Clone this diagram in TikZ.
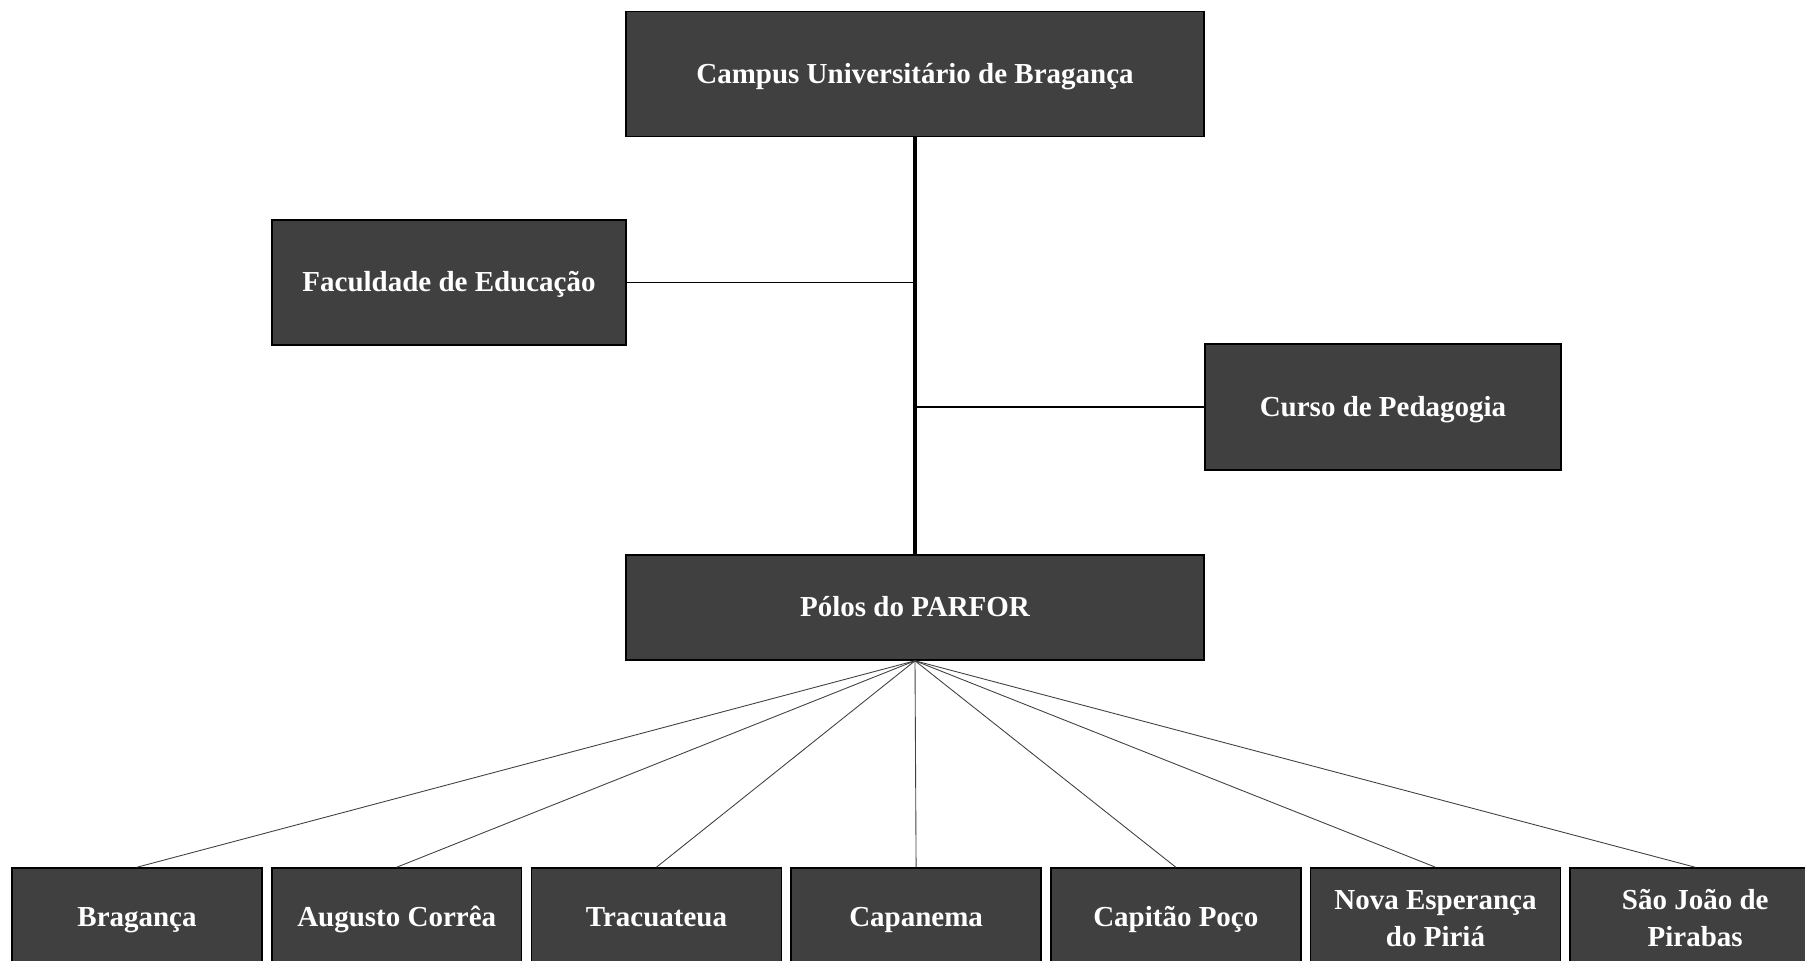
\documentclass[tikz,border=0pt]{standalone}
\usepackage{fontspec}
\setmainfont{Liberation Serif}
\usetikzlibrary{positioning}
\definecolor{boxgray}{RGB}{64,64,64}
\tikzset{
  orgbox/.style={draw=black, line width=0.9pt, fill=boxgray, text=white,
    font=\fontsize{16.5}{20.5}\selectfont\bfseries, align=center, inner sep=0pt,
    text height=1.05em, text depth=0pt},
  polobox/.style={orgbox, minimum width=5cm, minimum height=1.96cm},
  fanline/.style={draw=black!75, line width=0.5pt}
}

\begin{document}
\begin{tikzpicture}[x=0.02cm, y=-0.02cm]
    \clip (0,0) rectangle (1805,960);
    \node[orgbox, minimum width=11.56cm, minimum height=2.5cm] (campus) at (915,74) {Campus Universitário de Bragança};
    \node[orgbox, minimum width=7.08cm, minimum height=2.5cm] (faced) at (449,282.5) {Faculdade de Educação};
    \node[orgbox, minimum width=7.12cm, minimum height=2.52cm] (pedagogia) at (1383,407) {Curso de Pedagogia};
    \node[orgbox, minimum width=11.56cm, minimum height=2.1cm] (parfor) at (915,607.5) {Pólos do PARFOR};
    % side branches
    \draw[line width=1.1pt] (faced.east) -- (faced.east -| campus.south);
    \draw[line width=1.1pt] (pedagogia.west) -- (pedagogia.west -| campus.south);
    \draw[line width=2.6pt] (campus.south) -- (parfor.north);
    % municipios
    \foreach \i/\t/\h in {0/Bragança/1.05em,1/Augusto Corrêa/1.05em,2/Tracuateua/1.05em,3/Capanema/1.05em,
                      4/Capitão Poço/1.05em,5/{Nova Esperança\\do Piriá}/33pt,6/{São João de\\Pirabas}/33pt} {
        \node[polobox, text height=\h] (polo\i) at (137+259.7*\i,917) {\t};
        \draw[fanline] (parfor.south) -- (polo\i.north);
    }
\end{tikzpicture}
\end{document}
